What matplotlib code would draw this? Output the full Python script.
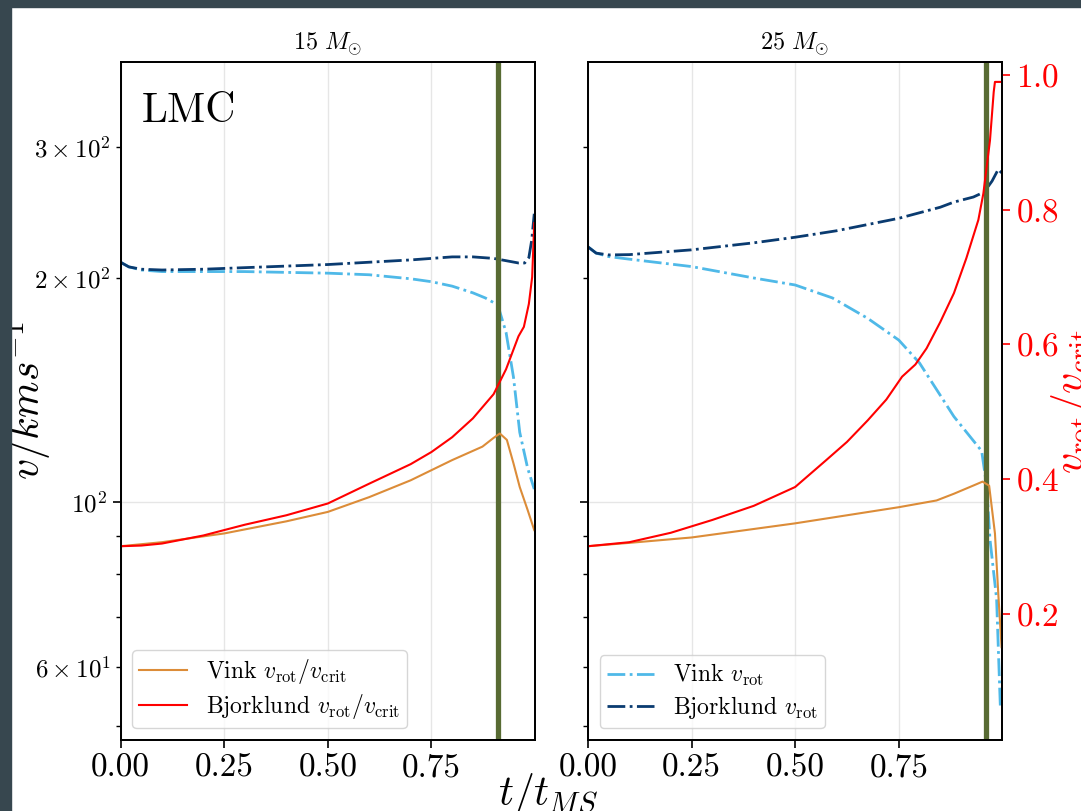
import matplotlib.pyplot as plt
from matplotlib.patches import Rectangle

plt.rcParams['font.family'] = 'serif'
plt.rcParams['font.serif'] = ['cmr10', 'DejaVu Serif']
plt.rcParams['mathtext.fontset'] = 'cm'
plt.rcParams['axes.formatter.use_mathtext'] = True

# ---- data: 15 Msun (LMC) ----
t15_vink_vrot = [0, 0.02, 0.05, 0.1, 0.2, 0.3, 0.4, 0.5, 0.6, 0.7, 0.75, 0.8, 0.85, 0.88, 0.91, 0.93, 0.948, 0.963, 0.982, 0.998]
v15_vink_vrot = [210, 207, 205, 204, 204, 204, 203.5, 203, 202, 199.5, 197.7, 195, 191, 188, 184, 169, 147, 124, 111, 104]

t15_bjork_vrot = [0, 0.02, 0.05, 0.1, 0.2, 0.3, 0.4, 0.5, 0.6, 0.7, 0.8, 0.85, 0.9, 0.93, 0.96, 0.975, 0.985, 0.992, 0.998]
v15_bjork_vrot = [210, 207, 205.5, 205, 205.5, 206.5, 207.5, 208.5, 210, 211.5, 213.5, 213.5, 212.5, 211, 209.5, 209.5, 213, 225, 244]

t15_vink_ratio = [0, 0.1, 0.25, 0.4, 0.5, 0.6, 0.7, 0.75, 0.8, 0.873, 0.9, 0.915, 0.932, 0.948, 0.963, 0.982, 0.998]
r15_vink_ratio = [0.300, 0.306, 0.319, 0.337, 0.351, 0.373, 0.398, 0.413, 0.428, 0.448, 0.461, 0.4675, 0.458, 0.423, 0.388, 0.354, 0.324]

t15_bjork_ratio = [0, 0.05, 0.1, 0.2, 0.25, 0.3, 0.4, 0.5, 0.6, 0.7, 0.75, 0.8, 0.85, 0.9, 0.93, 0.96, 0.973, 0.985, 0.993, 0.998]
r15_bjork_ratio = [0.300, 0.301, 0.304, 0.316, 0.324, 0.332, 0.346, 0.3635, 0.393, 0.422, 0.440, 0.462, 0.490, 0.526, 0.563, 0.612, 0.626, 0.660, 0.700, 0.780]

# ---- data: 25 Msun ----
t25_vink_vrot = [0, 0.02, 0.05, 0.1, 0.25, 0.4, 0.5, 0.59, 0.675, 0.75, 0.8, 0.883, 0.95, 0.962, 0.97, 0.986, 0.995]
v25_vink_vrot = [220.3, 216, 213.7, 212, 207.2, 200, 195.7, 188, 176.5, 165, 153.7, 130.2, 117, 105, 89, 74, 53]

t25_bjork_vrot = [0, 0.02, 0.05, 0.1, 0.25, 0.4, 0.5, 0.6, 0.75, 0.85, 0.883, 0.93, 0.956, 0.975, 0.99, 0.998]
v25_bjork_vrot = [220.3, 216, 214.8, 215, 218.2, 223, 226.9, 231.5, 240.6, 249, 253, 257, 261, 270, 280, 277]

t25_vink_ratio = [0, 0.1, 0.25, 0.5, 0.75, 0.841, 0.883, 0.933, 0.952, 0.968, 0.982, 0.99, 0.998]
r25_vink_ratio = [0.300, 0.305, 0.313, 0.334, 0.358, 0.368, 0.378, 0.391, 0.396, 0.390, 0.319, 0.23, 0.15]

t25_bjork_ratio = [0, 0.1, 0.2, 0.3, 0.4, 0.5, 0.575, 0.625, 0.675, 0.72, 0.758, 0.79, 0.817, 0.85, 0.883, 0.913, 0.942, 0.954, 0.97, 0.979, 0.982, 0.998]
r25_bjork_ratio = [0.300, 0.306, 0.320, 0.339, 0.360, 0.388, 0.428, 0.455, 0.487, 0.518, 0.552, 0.570, 0.594, 0.633, 0.676, 0.728, 0.785, 0.824, 0.903, 0.975, 0.99, 0.99]

tams_15 = 0.911
tams_25 = 0.961

c_vink = '#dc8c38'
c_bjork = 'red'
c_vink_v = '#4fb9e8'
c_bjork_v = '#0a3b70'
c_green = '#586b33'

fig, (ax1, ax2) = plt.subplots(1, 2, sharey=True, figsize=(10.81, 8.11), dpi=100)
fig.subplots_adjust(left=0.1115, right=0.9273, bottom=0.0875, top=0.9239, wspace=0.1274)

ax1t = ax1.twinx()
ax2t = ax2.twinx()

panels = [
    (ax1, ax1t, t15_vink_vrot, v15_vink_vrot, t15_bjork_vrot, v15_bjork_vrot,
     t15_vink_ratio, r15_vink_ratio, t15_bjork_ratio, r15_bjork_ratio, tams_15, r"$15\ M_{\odot}$"),
    (ax2, ax2t, t25_vink_vrot, v25_vink_vrot, t25_bjork_vrot, v25_bjork_vrot,
     t25_vink_ratio, r25_vink_ratio, t25_bjork_ratio, r25_bjork_ratio, tams_25, r"$25\ M_{\odot}$"),
]

for ax, axt, tv, vv, tb, vb, tvr, rv, tbr, rb, tams, title in panels:
    ax.set_yscale('log')
    ax.plot(tv, vv, '-.', color=c_vink_v, lw=2, label=r"Vink $v_{\rm rot}$")
    ax.plot(tb, vb, '-.', color=c_bjork_v, lw=2, label=r"Bjorklund $v_{\rm rot}$")
    ax.axvline(tams, color=c_green, lw=3.8)
    axt.plot(tvr, rv, '-', color=c_vink, lw=1.5, label=r"Vink $v_{\rm rot}/v_{\rm crit}$")
    axt.plot(tbr, rb, '-', color=c_bjork, lw=1.5, label=r"Bjorklund $v_{\rm rot}/v_{\rm crit}$")
    ax.set_xlim(0, 1)
    ax.set_xticks([0, 0.25, 0.5, 0.75])
    ax.set_xticklabels(['0.00', '0.25', '0.50', '0.75'])
    ax.tick_params(axis='x', labelsize=24, length=6, width=1.2)
    ax.tick_params(axis='y', which='major', labelsize=18, length=6, width=1.2)
    ax.tick_params(axis='y', which='minor', labelsize=18, length=3.5, width=1)
    ax.grid(True, which='major', color='#e6e6e6', lw=1)
    ax.set_title(title, fontsize=17.5, pad=8)
    axt.set_ylim(0.012, 1.02)
    for a in (ax, axt):
        for s in a.spines.values():
            s.set_linewidth(1.3)

ax1.set_ylim(47.8, 390.8)

# left twin: no ticks
ax1t.tick_params(right=False, labelright=False)
# right twin: red ticks
ax2t.set_yticks([0.2, 0.4, 0.6, 0.8, 1.0])
ax2t.tick_params(axis='y', colors='red', labelsize=24, length=6, width=1.2)
ax2t.set_ylabel(r"$v_{\rm rot}/v_{\rm crit}$", color='red', fontsize=30)
ax2t.yaxis.set_label_coords(1.112, 0.5)

ax1.text(0.05, 0.955, "LMC", fontsize=30, va='top', transform=ax1.transAxes)
ax1.set_ylabel(r"$v/kms^{-1}$", fontsize=30)
ax1.yaxis.set_label_coords(-0.16, 0.5)
fig.text(0.507, 0.0074, r"$t/t_{MS}$", fontsize=30, ha='center', va='baseline')

leg_kw = dict(loc='lower left', fontsize=17, edgecolor='#cccccc', borderpad=0.3,
              labelspacing=0.25, handlelength=2.0)
ax1t.legend(**leg_kw)
ax2.legend(**leg_kw)

# dark screenshot border on top and left
dark = '#37474f'
fig.add_artist(Rectangle((0, 0), 11 / 1081, 1, transform=fig.transFigure, color=dark, zorder=100))
fig.add_artist(Rectangle((0, 1 - 7 / 811), 1, 7 / 811, transform=fig.transFigure, color=dark, zorder=100))

fig.savefig('out.png', dpi=100)
